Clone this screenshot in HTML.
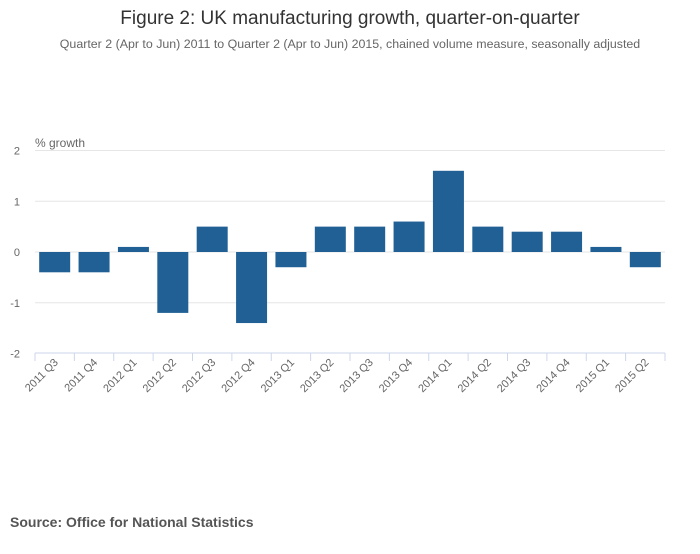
<!DOCTYPE html>
<html><head><meta charset="utf-8"><style>
body{margin:0;background:#fff;font-family:"Liberation Sans",sans-serif;}
svg text{font-family:"Liberation Sans",sans-serif;}
</style></head><body>
<svg width="700" height="549" viewBox="0 0 700 549">
<text x="350" y="24" text-anchor="middle" font-size="19" fill="#333">Figure 2: UK manufacturing growth, quarter-on-quarter</text>
<text x="350" y="48" text-anchor="middle" font-size="12.4" fill="#666">Quarter 2 (Apr to Jun) 2011 to Quarter 2 (Apr to Jun) 2015, chained volume measure, seasonally adjusted</text>
<text x="35" y="147" font-size="12" fill="#666">% growth</text>
<g id="grid"></g><g id="bars"></g><g id="xaxis"></g>
<text x="10" y="527" font-size="14" font-weight="bold" fill="#555">Source: Office for National Statistics</text>
</svg>
<script>
const categories=["2011 Q3","2011 Q4","2012 Q1","2012 Q2","2012 Q3","2012 Q4","2013 Q1","2013 Q2","2013 Q3","2013 Q4","2014 Q1","2014 Q2","2014 Q3","2014 Q4","2015 Q1","2015 Q2"];
const values=[-0.4,-0.4,0.1,-1.2,0.5,-1.4,-0.3,0.5,0.5,0.6,1.6,0.5,0.4,0.4,0.1,-0.3];
const yTicks=[-2,-1,0,1,2];
const NS="http://www.w3.org/2000/svg";
const L=35,R=665,T=150,B=353;
const y=v=>252-(v*(B-T)/4);
const step=(R-L)/categories.length;
const x=i=>L+i*step;
function mk(tag,attrs,parent){const e=document.createElementNS(NS,tag);for(const k in attrs)e.setAttribute(k,attrs[k]);document.getElementById(parent).appendChild(e);return e;}
yTicks.forEach(t=>{
  if(t!==-2){const g=mk('line',{x1:L,x2:R,y1:y(t),y2:y(t),stroke:'#e6e6e6','stroke-width':1},'grid');
  
  }
  const tx=mk('text',{x:20,y:y(t)+4,'text-anchor':'end','font-size':11,fill:'#666'},'grid');
  tx.textContent=t;
  
  
});
mk('line',{x1:L,x2:R,y1:B,y2:B,stroke:'#ccd6eb','stroke-width':1},'xaxis');
values.forEach((v,i)=>{
  const bw=31;
  const r=mk('rect',{x:x(i)+(step-bw)/2,y:Math.min(y(v),y(0)),width:bw,height:Math.abs(y(v)-y(0)),fill:'#206095'},'bars');
  
  
});
for(let i=0;i<=categories.length;i++){
  mk('line',{x1:x(i),x2:x(i),y1:B,y2:B+8,stroke:'#ccd6eb'},'xaxis');
}
categories.forEach((c,i)=>{
  const cx=x(i)+step/2+4,cy=B+10;
  const t=mk('text',{x:cx,y:cy,'text-anchor':'end','font-size':11,fill:'#666',transform:`rotate(-45 ${cx} ${cy})`},'xaxis');
  t.textContent=c;
  
  
});
</script>
</body></html>
